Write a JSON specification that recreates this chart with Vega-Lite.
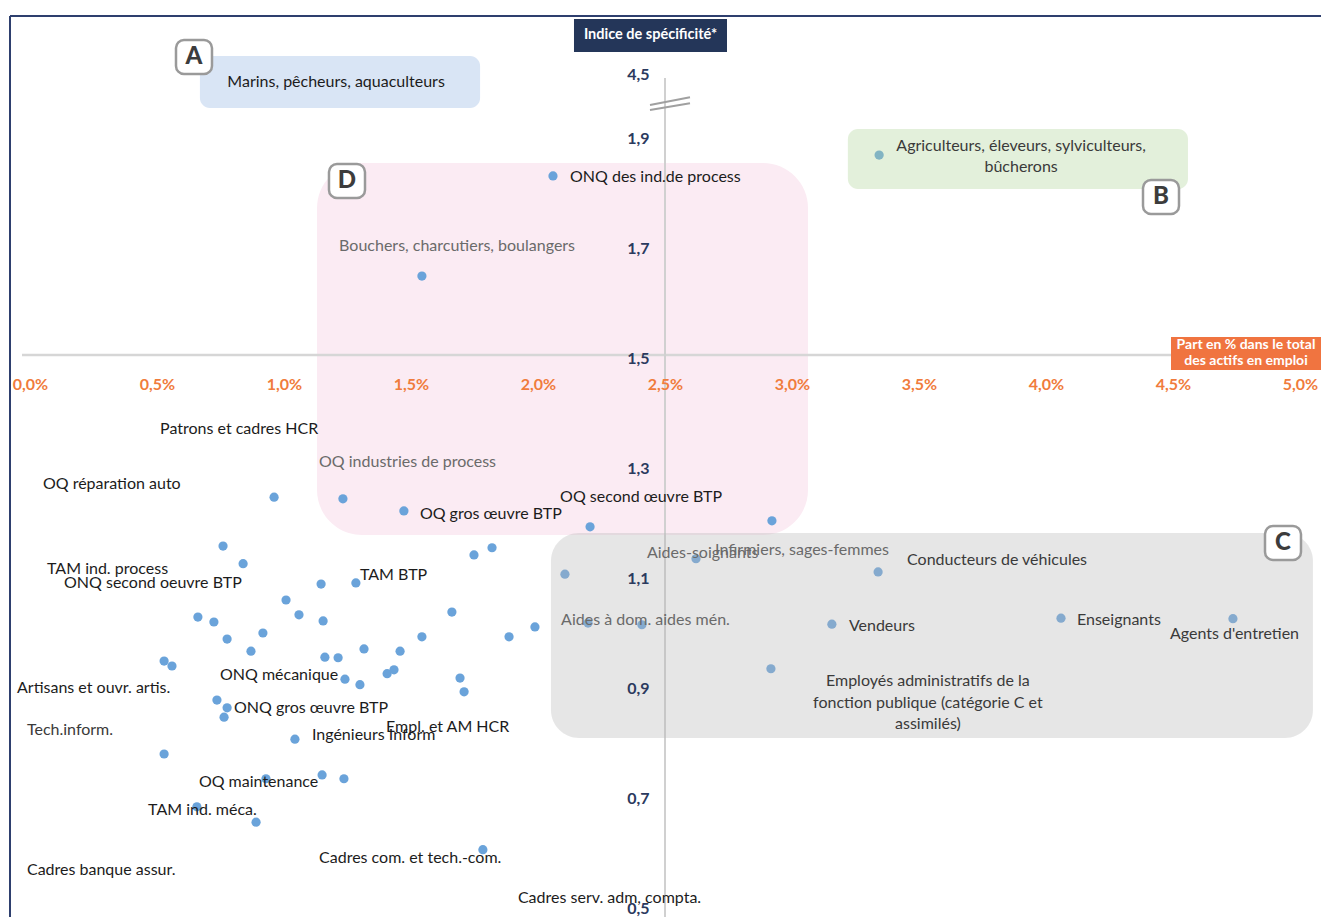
{
  "$schema": "https://vega.github.io/schema/vega-lite/v6.json",
  "width": 1311,
  "height": 901,
  "autosize": {"type": "none"},
  "padding": {"left": 10, "top": 16, "right": 0, "bottom": 0},
  "background": "white",
  "view": {"stroke": null},
  "config": {"font": "Lato", "text": {"font": "Lato"}},
  "datasets": {
    "points": [
      {"part": 2.059, "indice": 1.831}, {"part": 3.343, "indice": 1.869}, {"part": 1.543, "indice": 1.649},
      {"part": 0.961, "indice": 1.247}, {"part": 1.232, "indice": 1.244}, {"part": 1.472, "indice": 1.222},
      {"part": 2.205, "indice": 1.193}, {"part": 2.921, "indice": 1.204}, {"part": 0.760, "indice": 1.158},
      {"part": 0.839, "indice": 1.126}, {"part": 1.748, "indice": 1.142}, {"part": 1.819, "indice": 1.155},
      {"part": 2.622, "indice": 1.135}, {"part": 1.146, "indice": 1.089}, {"part": 1.283, "indice": 1.091},
      {"part": 2.106, "indice": 1.107}, {"part": 3.339, "indice": 1.111}, {"part": 1.008, "indice": 1.060},
      {"part": 0.661, "indice": 1.029}, {"part": 0.724, "indice": 1.020}, {"part": 1.059, "indice": 1.033},
      {"part": 1.154, "indice": 1.022}, {"part": 1.661, "indice": 1.038}, {"part": 0.917, "indice": 1.000},
      {"part": 0.776, "indice": 0.989}, {"part": 1.543, "indice": 0.993}, {"part": 1.886, "indice": 0.993},
      {"part": 1.988, "indice": 1.011}, {"part": 2.197, "indice": 1.018}, {"part": 2.409, "indice": 1.015},
      {"part": 3.157, "indice": 1.016}, {"part": 4.059, "indice": 1.027}, {"part": 4.736, "indice": 1.026},
      {"part": 0.870, "indice": 0.967}, {"part": 1.161, "indice": 0.956}, {"part": 1.213, "indice": 0.955},
      {"part": 1.315, "indice": 0.971}, {"part": 1.457, "indice": 0.967}, {"part": 0.528, "indice": 0.949},
      {"part": 0.559, "indice": 0.940}, {"part": 1.240, "indice": 0.916}, {"part": 1.299, "indice": 0.906},
      {"part": 1.406, "indice": 0.926}, {"part": 1.433, "indice": 0.933}, {"part": 1.693, "indice": 0.918},
      {"part": 1.709, "indice": 0.893}, {"part": 2.917, "indice": 0.935}, {"part": 0.736, "indice": 0.878},
      {"part": 0.776, "indice": 0.864}, {"part": 0.764, "indice": 0.847}, {"part": 1.043, "indice": 0.807},
      {"part": 0.528, "indice": 0.780}, {"part": 0.929, "indice": 0.735}, {"part": 1.150, "indice": 0.742},
      {"part": 1.236, "indice": 0.735}, {"part": 0.657, "indice": 0.684}, {"part": 0.890, "indice": 0.656},
      {"part": 1.783, "indice": 0.606}
    ],
    "etiquettes": [
      {"label": "ONQ des ind.de process", "part": 2.126, "indice": 1.829, "plan": "premier"},
      {"label": "Bouchers, charcutiers, boulangers", "part": 1.217, "indice": 1.704, "plan": "fond"},
      {"label": "Patrons et cadres HCR", "part": 0.512, "indice": 1.371, "plan": "premier"},
      {"label": "OQ industries de process", "part": 1.138, "indice": 1.311, "plan": "fond"},
      {"label": "OQ réparation auto", "part": 0.051, "indice": 1.271, "plan": "premier"},
      {"label": "OQ gros œuvre BTP", "part": 1.535, "indice": 1.216, "plan": "premier"},
      {"label": "OQ second œuvre BTP", "part": 2.087, "indice": 1.247, "plan": "premier"},
      {"label": "TAM ind. process", "part": 0.067, "indice": 1.116, "plan": "premier"},
      {"label": "ONQ second oeuvre BTP", "part": 0.134, "indice": 1.091, "plan": "premier"},
      {"label": "TAM BTP", "part": 1.299, "indice": 1.1055, "plan": "premier"},
      {"label": "Aides-soignants", "part": 2.429, "indice": 1.1455, "plan": "fond"},
      {"label": "Infirmiers, sages-femmes", "part": 2.697, "indice": 1.151, "plan": "fond"},
      {"label": "Conducteurs de véhicules", "part": 3.453, "indice": 1.133, "plan": "milieu"},
      {"label": "Aides à dom. aides mén.", "part": 2.091, "indice": 1.0236, "plan": "fond"},
      {"label": "Vendeurs", "part": 3.224, "indice": 1.0127, "plan": "milieu"},
      {"label": "Enseignants", "part": 4.122, "indice": 1.0236, "plan": "milieu"},
      {"label": "Agents d'entretien", "part": 4.488, "indice": 0.998, "plan": "milieu"},
      {"label": "ONQ mécanique", "part": 0.748, "indice": 0.9236, "plan": "premier"},
      {"label": "Artisans et ouvr. artis.", "part": -0.051, "indice": 0.900, "plan": "premier"},
      {"label": "ONQ gros œuvre BTP", "part": 0.803, "indice": 0.8636, "plan": "premier"},
      {"label": "Tech.inform.", "part": -0.012, "indice": 0.8236, "plan": "milieu"},
      {"label": "Ingénieurs Inform", "part": 1.110, "indice": 0.8145, "plan": "premier"},
      {"label": "Empl. et AM HCR", "part": 1.402, "indice": 0.8291, "plan": "premier"},
      {"label": "OQ maintenance", "part": 0.665, "indice": 0.7291, "plan": "premier"},
      {"label": "TAM ind. méca.", "part": 0.465, "indice": 0.6782, "plan": "premier"},
      {"label": "Cadres com. et tech.-com.", "part": 1.138, "indice": 0.5909, "plan": "premier"},
      {"label": "Cadres banque assur.", "part": -0.012, "indice": 0.5691, "plan": "premier"},
      {"label": "Cadres serv. adm, compta.", "part": 1.921, "indice": 0.5182, "plan": "premier"}
    ],
    "etiquettes_centrees": [
      {"label": "Marins, pêcheurs, aquaculteurs", "part": 1.205, "indice": 2.0018, "plan": "premier"},
      {"label": "Agriculteurs, éleveurs, sylviculteurs,\nbûcherons", "part": 3.902, "indice": 1.8855, "plan": "milieu"},
      {"label": "Employés administratifs de la\nfonction publique (catégorie C et\nassimilés)", "part": 3.535, "indice": 0.9127, "plan": "milieu"}
    ],
    "badges": [
      {"lettre": "A", "part": 0.5748, "part2": 0.7165, "indice": 2.0164, "indice2": 2.0782, "cx": 0.6457, "cy": 2.0473},
      {"lettre": "B", "part": 4.3819, "part2": 4.5236, "indice": 1.7618, "indice2": 1.8236, "cx": 4.4528, "cy": 1.7927},
      {"lettre": "C", "part": 4.8622, "part2": 5.0039, "indice": 1.1327, "indice2": 1.1945, "cx": 4.9331, "cy": 1.1636},
      {"lettre": "D", "part": 1.1771, "part2": 1.3189, "indice": 1.7909, "indice2": 1.8527, "cx": 1.2480, "cy": 1.8218}
    ]
  },
  "encoding": {
    "x": {
      "field": "part",
      "type": "quantitative",
      "scale": {"domain": [-0.07874, 5.08268], "nice": false, "zero": false},
      "axis": {
        "orient": "bottom",
        "offset": -562,
        "values": [0, 0.5, 1, 1.5, 2, 2.5, 3, 3.5, 4, 4.5, 5],
        "labelExpr": "replace(format(datum.value, '.1f'), '.', ',') + '%'",
        "domain": false, "ticks": false, "tickSize": 0, "grid": false,
        "labelPadding": 21, "labelColor": "#f07c3c", "labelFont": "Lato",
        "labelFontWeight": "bold", "labelFontSize": 16, "title": null,
        "labelOverlap": false, "labelFlush": false, "zindex": 1
      }
    },
    "y": {
      "field": "indice",
      "type": "quantitative",
      "scale": {"domain": [0.48364, 2.12182], "nice": false, "zero": false},
      "axis": {
        "orient": "left",
        "offset": -655,
        "values": [0.5, 0.7, 0.9, 1.1, 1.3, 1.5, 1.7, 1.9, 2.0146],
        "labelExpr": "datum.value > 2 ? '4,5' : replace(format(datum.value, '.1f'), '.', ',')",
        "domain": false, "ticks": false, "tickSize": 0, "grid": false,
        "labelPadding": 16, "labelColor": "#2b3a5e", "labelFont": "Lato",
        "labelFontWeight": "bold", "labelFontSize": 16, "title": null,
        "labelOverlap": false, "zindex": 1
      }
    }
  },
  "layer": [
    {
      "data": {"values": [{"part": -0.07874, "part2": 5.08268, "indice": 2.12182}]},
      "mark": {"type": "rule", "color": "#2e3f6e", "strokeWidth": 2},
      "encoding": {"x2": {"field": "part2"}}
    },
    {
      "data": {"values": [{"part": -0.07874, "indice": 0.48364, "indice2": 2.12182}]},
      "mark": {"type": "rule", "color": "#2e3f6e", "strokeWidth": 2},
      "encoding": {"y2": {"field": "indice2"}}
    },
    {
      "data": {"values": [{"zone": "A", "part": 0.669, "part2": 1.772, "indice": 2.0491, "indice2": 1.9545}]},
      "mark": {"type": "rect", "fill": "#d9e5f5", "cornerRadius": 10},
      "encoding": {"x2": {"field": "part2"}, "y2": {"field": "indice2"}}
    },
    {
      "data": {"values": [{"zone": "D", "part": 1.130, "part2": 3.063, "indice": 1.8545, "indice2": 1.1782}]},
      "mark": {"type": "rect", "fill": "#fbebf3", "cornerRadius": 45},
      "encoding": {"x2": {"field": "part2"}, "y2": {"field": "indice2"}}
    },
    {
      "data": {"values": [{"part": -0.0315, "part2": 5.08268, "indice": 1.5055}]},
      "mark": {"type": "rule", "color": "#d6d6d6", "strokeWidth": 2.5},
      "encoding": {"x2": {"field": "part2"}}
    },
    {
      "data": {"values": [{"part": 2.5, "indice": 0.48364, "indice2": 2.0091}]},
      "mark": {"type": "rule", "color": "#d0d0d0", "strokeWidth": 2},
      "encoding": {"y2": {"field": "indice2"}}
    },
    {
      "data": {"name": "points"},
      "mark": {"type": "circle", "size": 85, "color": "#6aa3da", "opacity": 1}
    },
    {
      "data": {"values": [{"zone": "B", "part": 3.220, "part2": 4.559, "indice": 1.9164, "indice2": 1.8073}]},
      "mark": {"type": "rect", "fill": "#afd498", "opacity": 0.35, "cornerRadius": 10},
      "encoding": {"x2": {"field": "part2"}, "y2": {"field": "indice2"}}
    },
    {
      "data": {"values": [{"zone": "C", "part": 2.051, "part2": 5.051, "indice": 1.1818, "indice2": 0.8091}]},
      "mark": {"type": "rect", "fill": "#b8b8b8", "opacity": 0.35, "cornerRadius": 28},
      "encoding": {"x2": {"field": "part2"}, "y2": {"field": "indice2"}}
    },
    {
      "data": {"values": [
        {"part": 2.4409, "part2": 2.5984, "indice": 1.9600, "indice2": 1.9741},
        {"part": 2.4409, "part2": 2.5984, "indice": 1.9509, "indice2": 1.9632}
      ]},
      "mark": {"type": "rule", "color": "#a0a0a0", "strokeWidth": 2},
      "encoding": {"x2": {"field": "part2"}, "y2": {"field": "indice2"}}
    },
    {
      "data": {"name": "etiquettes"},
      "mark": {"type": "text", "align": "left", "baseline": "middle", "fontSize": 16, "font": "Lato"},
      "encoding": {
        "text": {"field": "label"},
        "color": {"field": "plan", "type": "nominal", "scale": {"domain": ["premier", "milieu", "fond"], "range": ["#1c1c1c", "#3a3a3a", "#6a6a6a"]}, "legend": null}
      }
    },
    {
      "data": {"name": "etiquettes_centrees"},
      "mark": {"type": "text", "align": "center", "baseline": "middle", "fontSize": 16, "font": "Lato", "lineBreak": "\n", "lineHeight": 21.5},
      "encoding": {
        "text": {"field": "label"},
        "color": {"field": "plan", "type": "nominal", "scale": {"domain": ["premier", "milieu", "fond"], "range": ["#1c1c1c", "#3a3a3a", "#6a6a6a"]}, "legend": null}
      }
    },
    {
      "data": {"values": [{"part": 2.1417, "part2": 2.7441, "indice": 2.1164, "indice2": 2.0564}]},
      "mark": {"type": "rect", "fill": "#243659"},
      "encoding": {"x2": {"field": "part2"}, "y2": {"field": "indice2"}}
    },
    {
      "data": {"values": [{"part": 4.4921, "part2": 5.08268, "indice": 1.5382, "indice2": 1.4782}]},
      "mark": {"type": "rect", "fill": "#f07440"},
      "encoding": {"x2": {"field": "part2"}, "y2": {"field": "indice2"}}
    },
    {
      "data": {"values": [{"titre": "Indice de spécificité*", "part": 2.4429, "indice": 2.0864}]},
      "mark": {"type": "text", "align": "center", "baseline": "middle", "fontSize": 14.5, "fontWeight": "bold", "font": "Lato", "color": "white"},
      "encoding": {"text": {"field": "titre"}}
    },
    {
      "data": {"values": [{"titre": "Part en % dans le total\ndes actifs en emploi", "part": 4.7874, "indice": 1.5236}]},
      "mark": {"type": "text", "align": "center", "baseline": "middle", "fontSize": 14, "fontWeight": "bold", "font": "Lato", "color": "white", "lineBreak": "\n", "lineHeight": 16}, 
      "encoding": {"text": {"field": "titre"}}
    },
    {
      "data": {"name": "badges"},
      "mark": {"type": "rect", "fill": "white", "stroke": "#9a9a9a", "strokeWidth": 2.5, "cornerRadius": 8},
      "encoding": {"x2": {"field": "part2"}, "y2": {"field": "indice2"}}
    },
    {
      "data": {"name": "badges"},
      "mark": {"type": "text", "align": "center", "baseline": "middle", "fontSize": 24, "fontWeight": 900, "font": "Lato", "color": "#3c3c3c"},
      "encoding": {
        "x": {"field": "cx", "type": "quantitative", "scale": {"domain": [-0.07874, 5.08268], "nice": false, "zero": false}},
        "y": {"field": "cy", "type": "quantitative", "scale": {"domain": [0.48364, 2.12182], "nice": false, "zero": false}},
        "text": {"field": "lettre"}
      }
    }
  ]
}
